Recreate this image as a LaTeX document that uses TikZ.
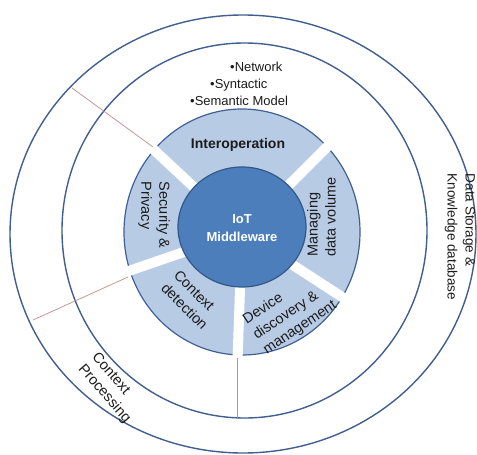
\documentclass[tikz,border=0pt]{standalone}
\usepackage{fontspec}
\setmainfont{Liberation Sans}
\definecolor{lineblue}{RGB}{64,94,142}
\definecolor{ringfill}{RGB}{184,203,229}
\definecolor{ringline}{RGB}{62,96,148}
\definecolor{corefill}{RGB}{76,126,188}
\definecolor{coreline}{RGB}{52,88,135}
\definecolor{redl}{RGB}{196,140,140}
\definecolor{txt}{RGB}{28,28,28}
\begin{document}
\begin{tikzpicture}[x=1pt,y=-1pt,
  circ/.style={draw=lineblue, line width=1.4pt},
  redline/.style={draw=redl, line width=0.7pt},
  lbl/.style={font=\fontsize{14.5}{18}\selectfont, text=txt, align=left, inner sep=0pt},
  bullet/.style={font=\fontsize{13}{15}\selectfont, text=txt, anchor=base west, inner sep=0pt},
  gap/.style={white, line width=10pt}]
\useasboundingbox[fill=white] (0,0) rectangle (477,455);
% outer rings
\draw[circ] (243,234) ellipse [x radius=233pt, y radius=219pt];
\draw[circ] (244.5,230.5) ellipse [x radius=182.5pt, y radius=187.5pt];
% red separators
\coordinate (r1a) at (153,147); \coordinate (r1b) at (72,88);
\coordinate (r2a) at (128,277); \coordinate (r2b) at (33,320);
\coordinate (r3a) at (237,355); \coordinate (r3b) at (237,418);
\draw[redline] (r1a) -- (r1b);
\draw[redline] (r2a) -- (r2b);
\draw[redline] (r3a) -- (r3b);
% ring
\draw[fill=ringfill, draw=ringline, line width=1.2pt] (242,232) ellipse [x radius=118pt, y radius=123pt];
\begin{scope}
  \clip (242,232) ellipse [x radius=121pt, y radius=126pt];
  \foreach \a in {137,45,-33,-92,199} \draw[gap] (242,232) -- ++(\a:140pt);
\end{scope}
% core
\draw[fill=corefill, draw=coreline, line width=1.2pt] (242,227) ellipse [x radius=64pt, y radius=60pt];
\node[font=\bfseries\fontsize{13}{18}\selectfont, text=white, align=center, inner sep=0pt] (iot) at (242,228) {IoT\\Middleware};
% ring labels
\node[lbl, font=\bfseries\fontsize{14}{17}\selectfont] (interop) at (238,145) {Interoperation};
\node[lbl, rotate=-90] (secp) at (154,215) {Security \&\\Privacy};
\node[lbl, rotate=90] (mdv) at (321.5,217) {Managing\\data volume};
\node[lbl, rotate=-45] (cdet) at (191,300) {Context\\detection};
\node[lbl, rotate=34] (ddm) at (290,313) {Device\\discovery \&\\management};
% outer labels
\node[lbl, rotate=-49] (cproc) at (111,388) {Context\\Processing};
\node[lbl, font=\fontsize{13.5}{18}\selectfont, rotate=-90] (dsk) at (460,237) {Data Storage \&\\Knowledge database};
\node[bullet] (net) at (230,71) {•Network};
\node[bullet] (syn) at (210,88) {•Syntactic};
\node[bullet] (sem) at (190,105) {•Semantic Model};
\end{tikzpicture}
\end{document}
